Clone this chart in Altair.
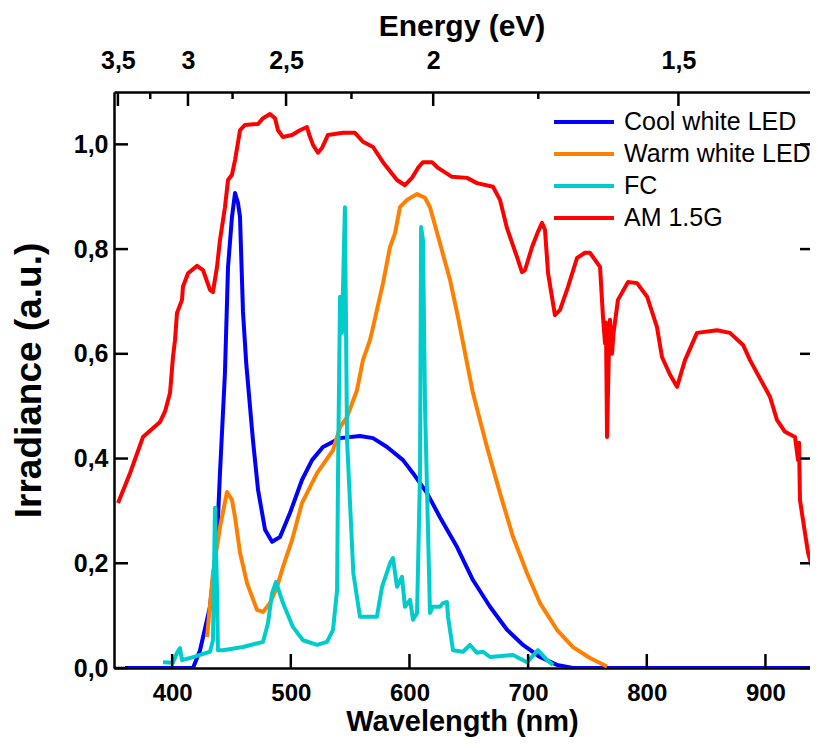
import altair as alt
import pandas as pd

# ---------------- data ----------------
series_names = ["Cool white LED", "Warm white LED", "FC", "AM 1.5G"]
series_colors = ["#0000ff", "#ff8000", "#00cccc", "#ff0000"]

cool_wl = [360.3, 417.6, 423.5, 431.9, 437.8, 440.3, 444.5, 447.1, 450.4, 453.0, 455.5,
           457.2, 459.7, 462.5, 468.1, 472.4, 478.3, 484.2, 490.9, 499.3, 509.4, 517.9,
           527.1, 541.5, 558.3, 569.3, 581.1, 594.6, 603.0, 614.8, 625.7, 640.1, 653.5,
           667.9, 682.2, 695.7, 710.0, 724.3, 737.8, 944.3]
cool_val = [0.0, 0.0, 0.034, 0.117, 0.244, 0.372, 0.563, 0.766, 0.861, 0.907, 0.888,
            0.861, 0.68, 0.58, 0.435, 0.34, 0.264, 0.241, 0.25, 0.296, 0.359, 0.397,
            0.422, 0.439, 0.443, 0.439, 0.422, 0.397, 0.372, 0.334, 0.288, 0.231, 0.168,
            0.117, 0.073, 0.044, 0.021, 0.006, 0.0, 0.0]

warm_wl = [429.4, 434.4, 440.3, 446.2, 450.4, 453.0, 457.2, 463.1, 471.5, 476.6, 482.5,
           488.4, 493.4, 501.0, 509.4, 522.1, 535.6, 541.5, 547.4, 555.8, 560.8, 566.7,
           569.3, 577.7, 583.6, 587.8, 592.0, 597.9, 606.4, 613.1, 617.3, 625.7, 634.2,
           640.9, 646.8, 653.5, 665.3, 676.3, 687.3, 699.1, 710.0, 724.3, 737.8, 752.1,
           766.5]
warm_val = [0.059, 0.181, 0.269, 0.336, 0.321, 0.288, 0.22, 0.162, 0.111, 0.107, 0.124,
            0.155, 0.193, 0.244, 0.315, 0.372, 0.416, 0.46, 0.479, 0.531, 0.588, 0.626,
            0.651, 0.735, 0.804, 0.83, 0.88, 0.894, 0.905, 0.898, 0.88, 0.811, 0.741,
            0.67, 0.602, 0.525, 0.422, 0.334, 0.25, 0.181, 0.124, 0.073, 0.04, 0.019,
            0.003]

fc_wl = [392.3, 400.7, 404.1, 406.6, 408.3, 415.0, 423.5, 431.9, 434.4, 436.1, 437.8,
         438.6, 442.9, 459.7, 476.6, 480.8, 484.2, 487.5, 493.4, 501.9, 510.3, 522.1,
         530.5, 535.6, 539.0, 539.8, 541.5, 543.1, 545.6, 547.4, 552.7, 558.3, 572.6,
         576.9, 583.6, 586.1, 589.5, 593.7, 596.2, 600.5, 603.0, 606.4, 608.9, 609.8,
         611.4, 613.1, 614.8, 617.3, 619.8, 625.7, 628.3, 631.6, 632.5, 636.7, 645.1,
         651.0, 656.9, 662.0, 667.9, 687.3, 699.1, 708.3, 716.0, 721.0]
fc_val = [0.011, 0.01, 0.029, 0.038, 0.015, 0.019, 0.025, 0.031, 0.053, 0.306, 0.15,
          0.034, 0.034, 0.04, 0.05, 0.086, 0.143, 0.164, 0.124, 0.078, 0.053, 0.044,
          0.05, 0.073, 0.149, 0.372, 0.709, 0.64, 0.88, 0.435, 0.181, 0.098, 0.098,
          0.155, 0.2, 0.21, 0.155, 0.174, 0.117, 0.13, 0.092, 0.105, 0.372, 0.842,
          0.817, 0.5, 0.34, 0.105, 0.117, 0.117, 0.124, 0.126, 0.098, 0.034, 0.031,
          0.044, 0.029, 0.031, 0.021, 0.025, 0.011, 0.034, 0.015, 0.006]

am_wl = [354.4, 364.5, 375.4, 389.8, 394.0, 398.2, 400.7, 402.4, 404.1, 408.3, 409.1,
         413.4, 421.0, 426.0, 431.9, 434.4, 437.8, 440.3, 444.5, 447.1, 450.4, 453.0,
         457.2, 461.4, 472.4, 476.6, 482.5, 486.7, 489.2, 493.4, 501.0, 507.7, 513.6,
         516.2, 518.7, 522.9, 526.3, 531.3, 544.0, 554.1, 560.8, 569.3, 577.7, 589.5,
         596.2, 602.1, 607.2, 611.4, 619.0, 624.1, 635.8, 648.5, 656.9, 670.4, 676.3,
         682.2, 690.6, 694.8, 697.4, 703.3, 708.3, 711.7, 714.2, 716.8, 722.6, 726.9,
         733.6, 741.2, 747.9, 752.1, 760.6, 763.1, 764.8, 765.6, 766.5, 768.2, 769.0,
         770.7, 772.0, 775.7, 784.2, 791.8, 800.3, 808.6, 812.8, 819.6, 825.5, 832.2,
         842.3, 859.2, 870.1, 881.1, 887.0, 903.8, 909.7, 916.5, 924.9, 927.5, 928.3,
         929.1, 931.6, 935.9, 939.2, 944.3]
am_val = [0.315, 0.372, 0.441, 0.47, 0.49, 0.525, 0.594, 0.626, 0.678, 0.703, 0.728,
          0.754, 0.768, 0.76, 0.722, 0.718, 0.766, 0.817, 0.88, 0.932, 0.942, 0.97,
          1.027, 1.037, 1.039, 1.05, 1.058, 1.05, 1.027, 1.014, 1.018, 1.027, 1.033,
          1.014, 0.999, 0.984, 0.993, 1.018, 1.022, 1.022, 1.005, 0.995, 0.966, 0.932,
          0.922, 0.936, 0.955, 0.966, 0.966, 0.955, 0.938, 0.936, 0.926, 0.919, 0.894,
          0.84, 0.785, 0.756, 0.76, 0.804, 0.833, 0.85, 0.837, 0.754, 0.674, 0.684,
          0.728, 0.783, 0.793, 0.793, 0.766, 0.67, 0.62, 0.66, 0.441, 0.62, 0.665,
          0.6, 0.64, 0.703, 0.737, 0.735, 0.709, 0.651, 0.594, 0.56, 0.537, 0.588,
          0.64, 0.645, 0.64, 0.617, 0.588, 0.518, 0.474, 0.451, 0.441, 0.397, 0.43,
          0.321, 0.283, 0.22, 0.193, 0.193]

bottom_ticks = [400, 500, 600, 700, 800, 900]
left_ticks = [0.0, 0.2, 0.4, 0.6, 0.8, 1.0]
energy_major = [3.5, 3.0, 2.5, 2.0, 1.5]
energy_minor = [3.25, 2.75, 2.25, 1.75]

# ---------------- build table ----------------
rows = []
for name, wl, val in zip(series_names, [cool_wl, warm_wl, fc_wl, am_wl],
                         [cool_val, warm_val, fc_val, am_val]):
    for i, (w, v) in enumerate(zip(wl, val)):
        rows.append({"series": name, "wl": w, "irr": v, "idx": i})
df = pd.DataFrame(rows)

W, H = 696, 576
FONT = "Liberation Sans"
MAJ, MIN = 14, 7
LBL = 25

xscale = alt.Scale(domain=[351, 351 + W / 1.1866], nice=False, zero=False)
yscale = alt.Scale(domain=[0, 1.1], nice=False, zero=False)

lines = alt.Chart(df).mark_line(strokeWidth=4, strokeJoin="round", clip=True).encode(
    x=alt.X("wl:Q", scale=xscale,
            axis=alt.Axis(orient="bottom", values=bottom_ticks, title="Wavelength (nm)",
                          ticks=False, grid=False, domainColor="black", domainWidth=2.5,
                          labelFont=FONT, labelFontSize=24, labelFontWeight="bold",
                          labelColor="black", labelPadding=13,
                          titleFont=FONT, titleFontSize=29, titleFontWeight="bold",
                          titleColor="black", titlePadding=2)),
    y=alt.Y("irr:Q", scale=yscale,
            axis=alt.Axis(orient="left", values=left_ticks, title="Irradiance (a.u.)",
                          ticks=False, grid=False, domainColor="black", domainWidth=2.5,
                          labelExpr="replace(format(datum.value, '.1f'), '.', ',')",
                          labelFont=FONT, labelFontSize=LBL, labelFontWeight="bold",
                          labelColor="black", labelPadding=6,
                          titleFont=FONT, titleFontSize=37, titleFontWeight="bold",
                          titleColor="black", titlePadding=25)),
    color=alt.Color("series:N", scale=alt.Scale(domain=series_names, range=series_colors),
                    legend=alt.Legend(orient="none", legendX=438, legendY=14, title=None,
                                      symbolType="stroke", symbolSize=3600,
                                      symbolStrokeWidth=4, labelFont=FONT,
                                      labelFontSize=25, labelColor="black",
                                      labelLimit=400, clipHeight=32, rowPadding=0,
                                      labelOffset=8, padding=0)),
    order="idx:Q",
)

# top axis (energy) major ticks
top_major = alt.Chart(pd.DataFrame({"E": energy_major})).transform_calculate(
    wl="1240 / datum.E").mark_rule(color="black", strokeWidth=2.5).encode(
    x=alt.X("wl:Q", scale=xscale,
            axis=alt.Axis(orient="top", values=[1240 / e for e in energy_major],
                          labelExpr="replace(format(1240 / datum.value, '.2~f'), '.', ',')",
                          ticks=False, grid=False, title=None, domainColor="black",
                          domainWidth=2.5, labelFont=FONT, labelFontSize=LBL,
                          labelFontWeight="bold", labelColor="black", labelPadding=19)),
    y=alt.value(0), y2=alt.value(MAJ),
)

top_minor = alt.Chart(pd.DataFrame({"E": energy_minor})).transform_calculate(
    wl="1240 / datum.E").mark_rule(color="black", strokeWidth=2.5).encode(
    x=alt.X("wl:Q", scale=xscale, axis=None),
    y=alt.value(0), y2=alt.value(MIN),
)

bottom_t = alt.Chart(pd.DataFrame({"t": bottom_ticks})).mark_rule(
    color="black", strokeWidth=2.5).encode(
    x=alt.X("t:Q", scale=xscale, axis=None),
    y=alt.value(H - MAJ), y2=alt.value(H),
)

left_t = alt.Chart(pd.DataFrame({"t": left_ticks})).mark_rule(
    color="black", strokeWidth=2.5).encode(
    y=alt.Y("t:Q", scale=yscale, axis=None),
    x=alt.value(0), x2=alt.value(MAJ),
)

right_t = alt.Chart(pd.DataFrame({"t": left_ticks})).mark_rule(
    color="black", strokeWidth=2.5).encode(
    y=alt.Y("t:Q", scale=yscale, axis=None),
    x=alt.value(W - 10), x2=alt.value(W),
)

chart = alt.layer(lines, top_major, top_minor, bottom_t, left_t, right_t).resolve_axis(
    x="independent", y="independent"
).properties(
    width=W, height=H,
    title=alt.Title("Energy (eV)", font=FONT, fontSize=30, fontWeight="bold",
                    color="black", anchor="middle", offset=6),
    autosize=alt.AutoSizeParams(type="none"),
    padding={"left": 106, "top": 84, "right": 0, "bottom": 72},
    background="white",
).configure_view(stroke=None)

chart.save("out.html", embed_options={"renderer": "svg", "actions": False})
